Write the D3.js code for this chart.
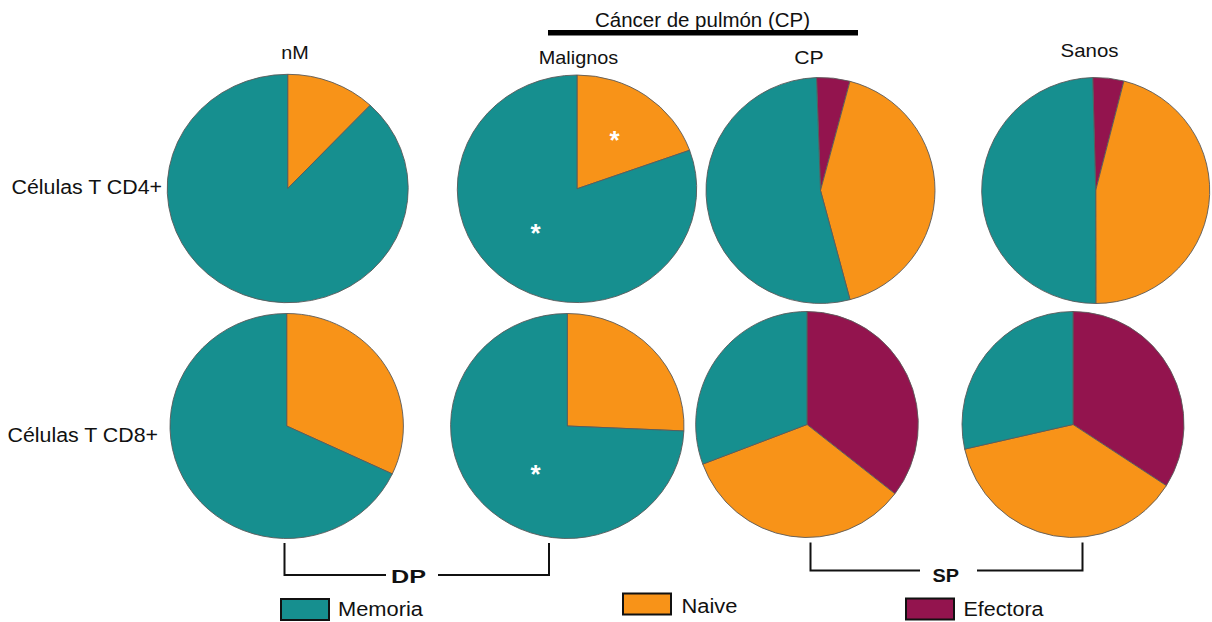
<!DOCTYPE html>
<html>
<head>
<meta charset="utf-8">
<script src="https://cdn.jsdelivr.net/npm/d3@7"></script>
<style>
  html, body { margin: 0; padding: 0; background: #ffffff; }
  svg { display: block; font-family: "Liberation Sans", Arial, Helvetica, sans-serif; }
</style>
</head>
<body>
<svg id="chart" width="1212" height="622"></svg>
<script>
// ---------------- DATA ----------------
const groups = ["nM", "Malignos", "CP", "Sanos"];
const rowLabels = ["Células T CD4+", "Células T CD8+"];
const categories = ["Efectora", "Naive", "Memoria"];
const legendOrder = ["Memoria", "Naive", "Efectora"];

// percentages per group (nM, Malignos, CP, Sanos)
const cd4Efectora = [0, 0, 4.7, 4.4];
const cd4Naive    = [12.0, 19.5, 41.7, 46.0];
const cd4Memoria  = [88.0, 80.5, 53.6, 49.6];
const cd8Efectora = [0, 0, 35.5, 34.1];
const cd8Naive    = [32.0, 25.7, 33.8, 37.4];
const cd8Memoria  = [68.0, 74.3, 30.7, 28.5];

const headerLabel = "Cáncer de pulmón (CP)";
const bracketLabels = ["DP", "SP"];

// ---------------- LAYOUT / STYLE ----------------
const colors = { Memoria: "#168f8f", Naive: "#f89318", Efectora: "#93144e" };
// per row, per group: center x, center y, radius x, radius y, start offset (deg)
const pieLayout = [
  [ {cx: 287.7, cy: 188.5, rx: 120.5, ry: 114.2, off: 0},
    {cx: 577.0, cy: 188.8, rx: 119.7, ry: 113.8, off: 0},
    {cx: 820.5, cy: 190.5, rx: 114.5, ry: 113.0, off: -2},
    {cx: 1095.7, cy: 190.5, rx: 114.0, ry: 113.0, off: -1.5} ],
  [ {cx: 286.7, cy: 426.0, rx: 116.7, ry: 112.5, off: 0},
    {cx: 567.3, cy: 426.0, rx: 116.7, ry: 112.5, off: 0},
    {cx: 807.0, cy: 424.5, rx: 111.3, ry: 113.0, off: 0},
    {cx: 1073.0, cy: 424.5, rx: 111.0, ry: 113.0, off: 0} ]
];

const rowValues = [
  groups.map((g, i) => ({ Efectora: cd4Efectora[i], Naive: cd4Naive[i], Memoria: cd4Memoria[i] })),
  groups.map((g, i) => ({ Efectora: cd8Efectora[i], Naive: cd8Naive[i], Memoria: cd8Memoria[i] }))
];

const svg = d3.select("#chart");
const deg = Math.PI / 180;

// ---------------- PIES ----------------
rowValues.forEach((row, r) => {
  row.forEach((vals, g) => {
    const L = pieLayout[r][g];
    const pie = d3.pie()
      .sort(null)
      .value(d => d.value)
      .startAngle(L.off * deg)
      .endAngle(L.off * deg + 2 * Math.PI);
    const arcs = pie(categories.map(c => ({ key: c, value: vals[c] })).filter(d => d.value > 0));
    const arc = d3.arc().innerRadius(0).outerRadius(L.rx);
    const gEl = svg.append("g")
      .attr("transform", `translate(${L.cx},${L.cy}) scale(1,${L.ry / L.rx})`);
    gEl.selectAll("path")
      .data(arcs)
      .join("path")
      .attr("d", arc)
      .attr("fill", d => colors[d.data.key])
      .attr("stroke", "#5a5a5a")
      .attr("stroke-width", 0.9)
      .attr("stroke-linejoin", "round")
      .attr("vector-effect", "non-scaling-stroke");
  });
});

// ---------------- ASTERISKS ----------------
const asterisks = [
  {x: 614.5, y: 135}, {x: 535.5, y: 228}, {x: 535.5, y: 468.5}
];
svg.selectAll("text.ast")
  .data(asterisks)
  .join("text")
  .attr("class", "ast")
  .attr("x", d => d.x)
  .attr("y", d => d.y + 14)
  .attr("text-anchor", "middle")
  .attr("font-size", 26)
  .attr("font-weight", "bold")
  .attr("fill", "#ffffff")
  .text("*");

// ---------------- TEXTS ----------------
const colLabelPos = [
  {x: 295, y: 59, w: 27.5}, {x: 578.5, y: 64, w: 79.5}, {x: 809, y: 64, w: 29.5}, {x: 1089.5, y: 56.5, w: 58}
];
svg.selectAll("text.col")
  .data(groups)
  .join("text")
  .attr("class", "col")
  .attr("x", (d, i) => colLabelPos[i].x - colLabelPos[i].w / 2)
  .attr("y", (d, i) => colLabelPos[i].y)
  .attr("font-size", 19)
  .attr("textLength", (d, i) => colLabelPos[i].w)
  .attr("lengthAdjust", "spacingAndGlyphs")
  .attr("fill", "#111")
  .text(d => d);

const rowLabelPos = [ {x: 11.5, y: 193.5}, {x: 7.5, y: 441.5} ];
svg.selectAll("text.row")
  .data(rowLabels)
  .join("text")
  .attr("class", "row")
  .attr("x", (d, i) => rowLabelPos[i].x)
  .attr("y", (d, i) => rowLabelPos[i].y)
  .attr("font-size", 20)
  .attr("textLength", 150.5)
  .attr("lengthAdjust", "spacingAndGlyphs")
  .attr("fill", "#111")
  .text(d => d);

// header with bar
svg.append("text")
  .attr("x", 595).attr("y", 26.5)
  .attr("font-size", 19.5)
  .attr("textLength", 215)
  .attr("lengthAdjust", "spacingAndGlyphs")
  .attr("fill", "#111")
  .text(headerLabel);
svg.append("rect")
  .attr("x", 548).attr("y", 30)
  .attr("width", 310).attr("height", 5.5)
  .attr("fill", "#000");

// ---------------- BRACKETS ----------------
const brackets = [
  {x1: 284.5, x2: 549, yTop: 543, yBot: 575, gapL: 386, gapR: 438, tx: 391, tw: 35, ty: 583},
  {x1: 810.5, x2: 1082.5, yTop: 542.5, yBot: 570.5, gapL: 920, gapR: 977, tx: 932.5, tw: 26.5, ty: 582}
];
brackets.forEach((b, i) => {
  const path = `M${b.x1},${b.yTop}V${b.yBot}H${b.gapL}M${b.gapR},${b.yBot}H${b.x2}V${b.yTop}`;
  svg.append("path")
    .attr("d", path)
    .attr("fill", "none")
    .attr("stroke", "#111")
    .attr("stroke-width", 2);
  svg.append("text")
    .attr("x", b.tx).attr("y", b.ty)
    .attr("font-size", 19)
    .attr("font-weight", "bold")
    .attr("textLength", b.tw)
    .attr("lengthAdjust", "spacingAndGlyphs")
    .attr("fill", "#111")
    .text(bracketLabels[i]);
});

// ---------------- LEGEND ----------------
const legendPos = {
  Memoria:  {bx: 281, by: 599, tx: 338, ty: 616, tw: 85},
  Naive:    {bx: 623, by: 593.5, tx: 681.5, ty: 613, tw: 56},
  Efectora: {bx: 906, by: 598.5, tx: 963.5, ty: 615.5, tw: 80}
};
const leg = svg.selectAll("g.leg")
  .data(legendOrder)
  .join("g")
  .attr("class", "leg");
leg.append("rect")
  .attr("x", d => legendPos[d].bx)
  .attr("y", d => legendPos[d].by)
  .attr("width", 48)
  .attr("height", 21)
  .attr("fill", d => colors[d])
  .attr("stroke", "#111")
  .attr("stroke-width", 2);
leg.append("text")
  .attr("x", d => legendPos[d].tx)
  .attr("y", d => legendPos[d].ty)
  .attr("font-size", 20)
  .attr("textLength", d => legendPos[d].tw)
  .attr("lengthAdjust", "spacingAndGlyphs")
  .attr("fill", "#111")
  .text(d => d);
</script>
</body>
</html>
